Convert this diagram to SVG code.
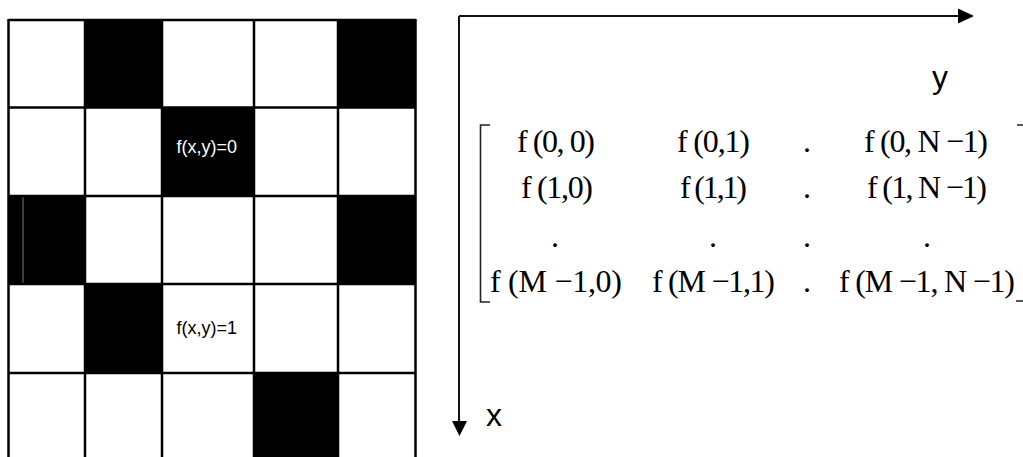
<svg xmlns="http://www.w3.org/2000/svg" width="1023" height="457" viewBox="0 0 1023 457">
<style>
.cell{fill:#000}
.grid{stroke:#000;stroke-width:2.5;fill:none}
.lbl{font-family:"Liberation Sans",Arial,sans-serif;font-size:18px}
.ax{font-family:"Liberation Sans",Arial,sans-serif;font-size:32px;fill:#000}
.m{font-family:"Liberation Serif","Times New Roman",serif;font-size:32px;fill:#000}
.axis{stroke:#111;stroke-width:2;fill:none}
.br{stroke:#222;stroke-width:1.6;fill:none}
</style>
<rect width="1023" height="457" fill="#fff"/>
<g id="grid">
  <rect class="cell" x="85" y="20" width="77" height="87.5"/>
  <rect class="cell" x="338" y="20" width="77.5" height="87.5"/>
  <rect class="cell" x="162" y="107.5" width="92" height="88.5"/>
  <rect class="cell" x="8.5" y="196" width="76.5" height="88"/>
  <rect class="cell" x="338" y="196" width="77.5" height="88"/>
  <rect class="cell" x="85" y="284" width="77" height="89"/>
  <rect class="cell" x="254" y="373" width="84" height="84"/>
  <line x1="23" y1="197" x2="23" y2="283" stroke="#7a7a7a" stroke-width="1"/>
  <path class="grid" d="M8.5,20 H415.5 M8.5,107.5 H415.5 M8.5,196 H415.5 M8.5,284 H415.5 M8.5,373 H415.5 M8.5,19 V457 M85,19 V457 M162,19 V457 M254,19 V457 M338,19 V457 M415.5,19 V457"/>
</g>
<g id="cell-labels">
  <text class="lbl" x="176.5" y="153" fill="#fff">f(x,y)=0</text>
  <text class="lbl" x="176.5" y="334" fill="#000">f(x,y)=1</text>
</g>
<g id="connectors">
  <line class="axis" x1="459" y1="16" x2="959" y2="16"/>
  <polygon points="958,8.5 974,16 958,23.5" fill="#000"/>
  <line class="axis" x1="459" y1="16" x2="459" y2="422"/>
  <polygon points="452,421 467,421 459.5,436" fill="#000"/>
</g>
<g id="axis-labels">
  <text class="ax" x="932" y="88">y</text>
  <text class="ax" x="486" y="426">x</text>
</g>
<g id="matrix">
  <path class="br" d="M490,125 H480.5 V302 H490"/>
  <path class="br" d="M1017,125 H1023 M1016,301 H1023"/>
  <text class="m" x="517" y="152" textLength="78" lengthAdjust="spacing">f (0, 0)</text>
  <text class="m" x="677" y="152" textLength="73" lengthAdjust="spacing">f (0,1)</text>
  <text class="m" x="803" y="152">.</text>
  <text class="m" x="864" y="152" textLength="124" lengthAdjust="spacing">f (0, N −1)</text>
  <text class="m" x="521" y="198" textLength="72" lengthAdjust="spacing">f (1,0)</text>
  <text class="m" x="680" y="198" textLength="67" lengthAdjust="spacing">f (1,1)</text>
  <text class="m" x="803" y="198">.</text>
  <text class="m" x="867" y="198" textLength="120" lengthAdjust="spacing">f (1, N −1)</text>
  <text class="m" x="551" y="247">.</text>
  <text class="m" x="709" y="247">.</text>
  <text class="m" x="803" y="247">.</text>
  <text class="m" x="923" y="247">.</text>
  <text class="m" x="490" y="292" textLength="132" lengthAdjust="spacing">f (M −1,0)</text>
  <text class="m" x="652" y="292" textLength="123" lengthAdjust="spacing">f (M −1,1)</text>
  <text class="m" x="803" y="292">.</text>
  <text class="m" x="839" y="292" textLength="176" lengthAdjust="spacing">f (M −1, N −1)</text>
</g>
</svg>
